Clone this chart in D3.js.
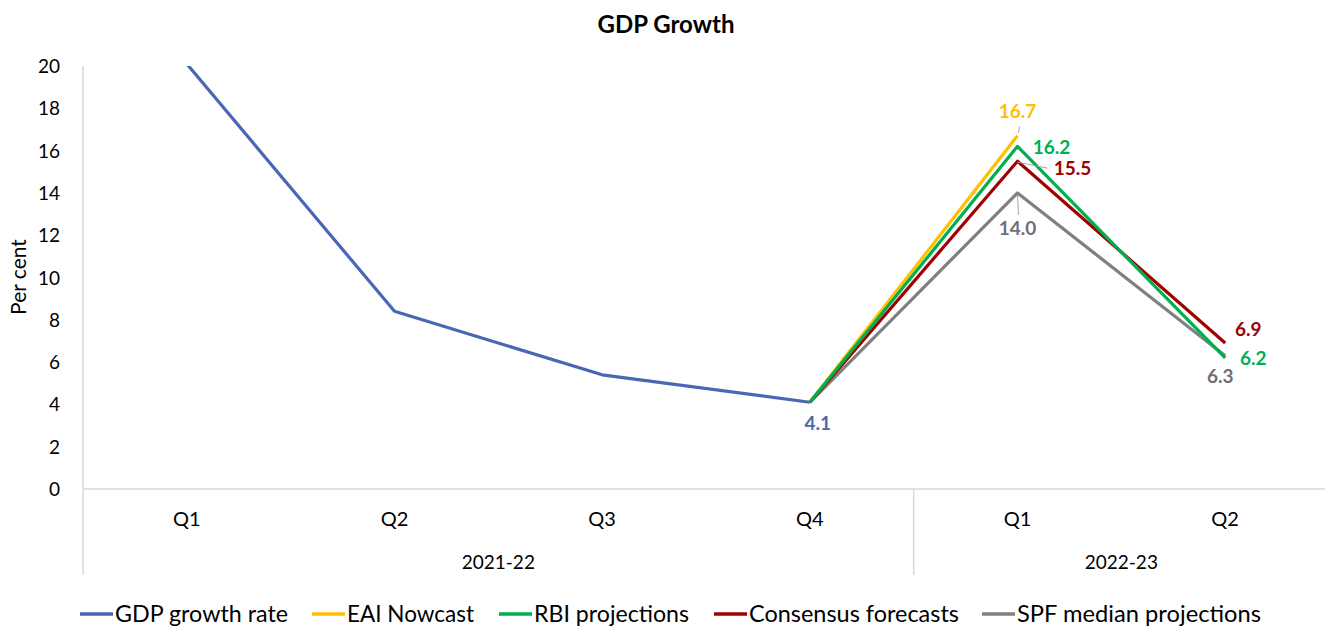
<!DOCTYPE html>
<html><head><meta charset="utf-8">
<script src="https://cdn.jsdelivr.net/npm/d3@7"></script>
<style>body{margin:0;background:#fff;} text{font-family:Lato,"Open Sans",sans-serif;}</style>
</head><body><svg id="c" width="1325" height="626"></svg>
<script>
const quarters = ["Q1","Q2","Q3","Q4","Q1","Q2"];
const years = [{label:"2021-22", from:0, to:4},{label:"2022-23", from:4, to:6}];
const yTicks = [0,2,4,6,8,10,12,14,16,18,20];
const gdpGrowth = [20.1, 8.4, 5.4, 4.1, null, null];
const eaiNowcast = [null, null, null, 4.1, 16.7, null];
const rbiProj = [null, null, null, 4.1, 16.2, 6.2];
const consensus = [null, null, null, 4.1, 15.5, 6.9];
const spfMedian = [null, null, null, 4.1, 14.0, 6.3];
const seriesNames = ["GDP growth rate","EAI Nowcast","RBI projections","Consensus forecasts","SPF median projections"];
const colors = ["#4A67B3","#FFC000","#00B050","#A00000","#808080"];

const svg = d3.select("#c");
const L=83, R=1329, T=66, B=489;
const x = d3.scaleBand().domain(d3.range(6)).range([L,R]);
const y = d3.scaleLinear().domain([0,20]).range([B,T]);

svg.append("defs").append("clipPath").attr("id","clip").append("rect")
  .attr("x",L).attr("y",T).attr("width",R-L).attr("height",B-T);

svg.append("text").attr("x",666).attr("y",33).attr("text-anchor","middle")
  .attr("font-weight","bold").attr("font-size",24).text("GDP Growth");

// y axis labels
svg.selectAll(".yt").data(yTicks).join("text").attr("x",60).attr("y",d=>y(d)+7)
  .attr("text-anchor","end").attr("font-size",19).attr("fill","#000").text(d=>d);
svg.append("text").attr("transform","translate(26,277) rotate(-90)").attr("text-anchor","middle")
  .attr("font-size",21).text("Per cent");

// axis lines
svg.append("line").attr("x1",L).attr("x2",L).attr("y1",T).attr("y2",575).attr("stroke","#d9d9d9").attr("stroke-width",1.5);
svg.append("line").attr("x1",L).attr("x2",R).attr("y1",B).attr("y2",B).attr("stroke","#d9d9d9").attr("stroke-width",1.5);
years.forEach(yr=>{
  if(yr.from>0) svg.append("line").attr("x1",x(yr.from)).attr("x2",x(yr.from)).attr("y1",B).attr("y2",575).attr("stroke","#d9d9d9").attr("stroke-width",1.5);
  svg.append("text").attr("x",(x(yr.from)+ (yr.to<6?x(yr.to):R))/2).attr("y",569).attr("text-anchor","middle").attr("font-size",19).text(yr.label);
});
svg.selectAll(".xq").data(quarters).join("text").attr("x",(d,i)=>x(i)+x.bandwidth()/2).attr("y",526)
  .attr("text-anchor","middle").attr("font-size",20).text(d=>d);

const allSeries = [gdpGrowth, eaiNowcast, rbiProj, consensus, spfMedian];
const line = d3.line().defined(d=>d!=null).x((d,i)=>x(i)+x.bandwidth()/2).y(d=>y(d));
const drawOrder = [0,4,1,3,2];
const g = svg.append("g").attr("clip-path","url(#clip)");
drawOrder.forEach(k=>{
  g.append("path").datum(allSeries[k]).attr("d",line).attr("fill","none")
    .attr("stroke",colors[k]).attr("stroke-width",3.2).attr("stroke-linejoin","round");
});

const cx = i=>x(i)+x.bandwidth()/2;
function leader(x1,y1,x2,y2){svg.append("line").attr("x1",x1).attr("y1",y1).attr("x2",x2).attr("y2",y2).attr("stroke","#a6a6a6").attr("stroke-width",1);}
leader(cx(4)+1,y(16.7)-3,cx(4)+2,y(16.7)-9);
leader(cx(4),y(15.5)+1,cx(4)+30,y(15.5)+7);
leader(cx(4),y(14.0)+2,cx(4)+1,y(14.0)+22);

const labels = [
  {v:gdpGrowth[3], i:3, dx:8, dy:28, c:colors[0]},
  {v:eaiNowcast[4], i:4, dx:0, dy:-18, c:"#FFC000"},
  {v:rbiProj[4], i:4, dx:34, dy:8, c:"#00B050"},
  {v:consensus[4], i:4, dx:55, dy:14, c:"#A00000"},
  {v:spfMedian[4], i:4, dx:0, dy:42, c:"#716D7A"},
  {v:consensus[5], i:5, dx:23, dy:-7, c:"#A00000"},
  {v:rbiProj[5], i:5, dx:28, dy:7, c:"#00B050"},
  {v:spfMedian[5], i:5, dx:-5, dy:27, c:"#716D7A"}
];
svg.selectAll(".dl").data(labels).join("text").attr("x",d=>cx(d.i)+d.dx).attr("y",d=>y(d.v)+d.dy)
  .attr("text-anchor","middle").attr("font-size",19).attr("font-weight","bold").attr("fill",d=>d.c)
  .text(d=>d.v.toFixed(1));

// legend
const legX = [80,312,499,714,982];
const legW = [173,127,155,210,244];
seriesNames.forEach((n,k)=>{
  svg.append("line").attr("x1",legX[k]).attr("x2",legX[k]+33).attr("y1",614).attr("y2",614).attr("stroke",colors[k]).attr("stroke-width",3.5);
  svg.append("text").attr("x",legX[k]+35).attr("y",622).attr("font-size",24)
    .attr("textLength",legW[k]).attr("lengthAdjust","spacingAndGlyphs").text(n);
});
</script></body></html>
